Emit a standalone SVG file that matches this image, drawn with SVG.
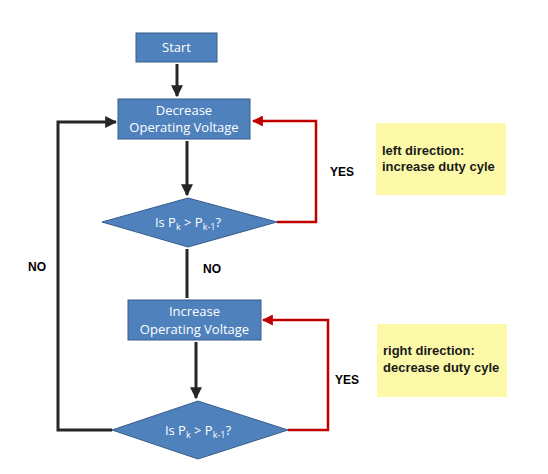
<svg xmlns="http://www.w3.org/2000/svg" width="548" height="474" viewBox="0 0 548 474">
<style>
.box{fill:#4F81BD;stroke:#385D8A;stroke-width:1}
.t{font-family:"Open Sans","Liberation Sans",sans-serif;font-size:13px;fill:#fff;text-anchor:middle}
.lbl{font-family:"Liberation Sans",Arial,sans-serif;font-size:12px;font-weight:bold;fill:#000}
.note{fill:#FCF9A9}
.nt{font-family:"Liberation Sans",Arial,sans-serif;font-size:13px;font-weight:bold;fill:#1a1a1a}
.blk{fill:none;stroke:#262626;stroke-width:3}
.red{fill:none;stroke:#C00000;stroke-width:2.5}
</style>
<defs>
<marker id="ab" viewBox="0 0 10 10" refX="9" refY="5" markerWidth="4" markerHeight="4" markerUnits="strokeWidth" orient="auto"><path d="M0,0L10,5L0,10z" fill="#262626"/></marker>
<marker id="ar" viewBox="0 0 10 10" refX="9" refY="5" markerWidth="4.4" markerHeight="4.4" markerUnits="strokeWidth" orient="auto"><path d="M0,0L10,5L0,10z" fill="#C00000"/></marker>
</defs>
<rect width="548" height="474" fill="#fff"/>
<g id="connectors">
<path class="blk" d="M177,64V96" marker-end="url(#ab)"/>
<path class="blk" d="M187,141V195" marker-end="url(#ab)"/>
<path class="blk" d="M187,249V298"/>
<path class="blk" d="M196,342V398" marker-end="url(#ab)"/>
<path class="blk" d="M112,430H58V122H116" marker-end="url(#ab)"/>
<path class="red" d="M277,222H316V121H253" marker-end="url(#ar)"/>
<path class="red" d="M288,430H328V320H263" marker-end="url(#ar)"/>
<text class="lbl" x="203" y="273">NO</text>
<text class="lbl" x="28" y="271">NO</text>
<text class="lbl" x="330" y="176">YES</text>
<text class="lbl" x="335" y="384">YES</text>
</g>
<g id="start">
<rect class="box" x="136" y="33" width="81" height="29"/>
<text class="t" x="176.5" y="52">Start</text>
</g>
<g id="decrease">
<rect class="box" x="118" y="99" width="132" height="40"/>
<text class="t" x="184" y="115">Decrease</text>
<text class="t" x="184" y="132">Operating Voltage</text>
</g>
<g id="check1">
<path class="box" d="M102,222L188,198L277,222L188,247Z"/>
<text class="t" x="188" y="227">Is P<tspan font-size="9" dy="3">k</tspan><tspan dy="-3"> &gt; P</tspan><tspan font-size="9" dy="3">k-1</tspan><tspan dy="-3">?</tspan></text>
</g>
<g id="increase">
<rect class="box" x="128" y="300" width="133" height="40"/>
<text class="t" x="194.5" y="316">Increase</text>
<text class="t" x="194.5" y="334">Operating Voltage</text>
</g>
<g id="check2">
<path class="box" d="M112,430L198,401L288,430L198,459Z"/>
<text class="t" x="198" y="435">Is P<tspan font-size="9" dy="3">k</tspan><tspan dy="-3"> &gt; P</tspan><tspan font-size="9" dy="3">k-1</tspan><tspan dy="-3">?</tspan></text>
</g>
<g id="note1">
<rect class="note" x="376" y="123" width="130" height="72"/>
<text class="nt" x="382" y="155">left direction:</text>
<text class="nt" x="382" y="171">increase duty cyle</text>
</g>
<g id="note2">
<rect class="note" x="377" y="324" width="130" height="73"/>
<text class="nt" x="383" y="355">right direction:</text>
<text class="nt" x="383" y="372">decrease duty cyle</text>
</g>
</svg>
